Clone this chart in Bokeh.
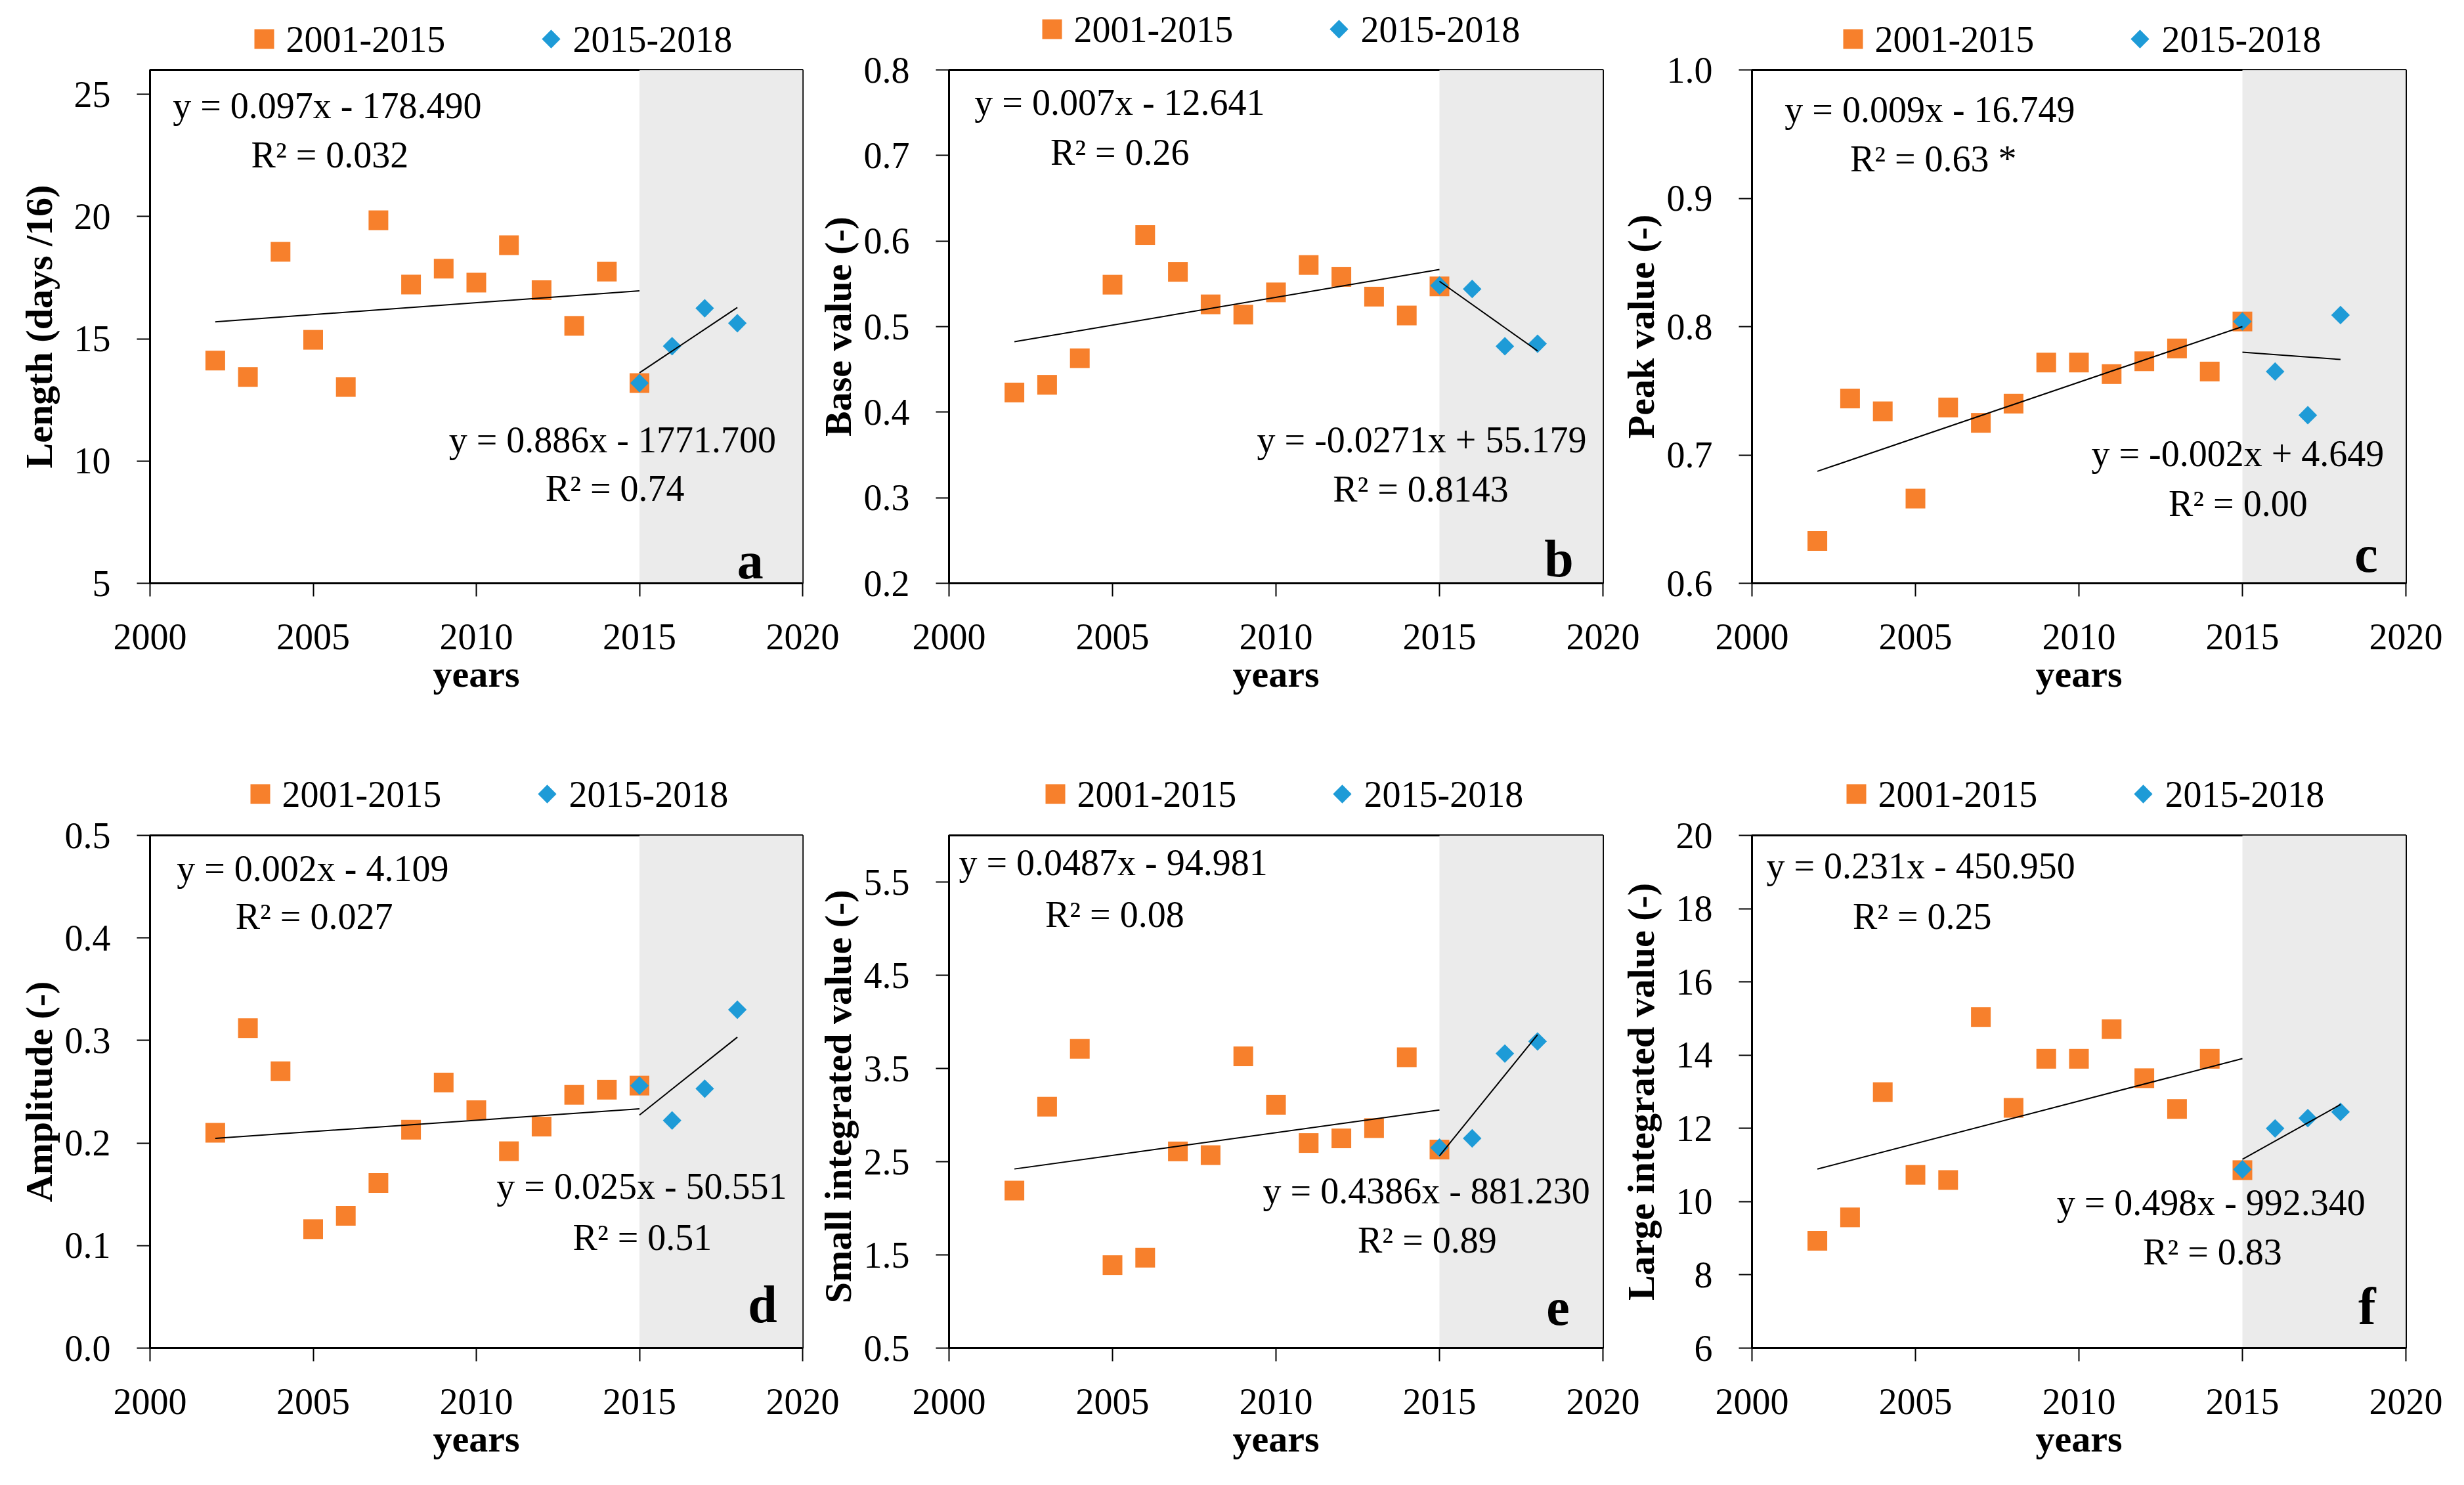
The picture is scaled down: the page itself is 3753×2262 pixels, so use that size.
import numpy as np
from bokeh.plotting import figure
from bokeh.models import (BoxAnnotation, Label, FixedTicker, PrintfTickFormatter, Range1d)
from bokeh.core.properties import value
from bokeh.layouts import column, row
from bokeh.embed import file_html
from bokeh.resources import INLINE

# ---------------- data ----------------
years_early = [2002, 2003, 2004, 2005, 2006, 2007, 2008, 2009, 2010, 2011, 2012, 2013, 2014, 2015]
years_late = [2015, 2016, 2017, 2018]

length_early = [14.11, 13.44, 18.56, 14.96, 13.03, 19.85, 17.22, 17.87, 17.30, 18.83, 16.99, 15.53, 17.75, 13.19]
length_late = [13.19, 14.70, 16.25, 15.64]

base_early = [0.423, 0.432, 0.463, 0.549, 0.607, 0.564, 0.526, 0.514, 0.540, 0.572, 0.558, 0.535, 0.513, 0.547]
base_late = [0.548, 0.544, 0.477, 0.480]

peak_early = [0.633, 0.744, 0.734, 0.666, 0.737, 0.725, 0.740, 0.772, 0.772, 0.763, 0.773, 0.783, 0.765, 0.804]
peak_late = [0.804, 0.765, 0.731, 0.809]

ampl_early = [0.210, 0.312, 0.270, 0.116, 0.129, 0.161, 0.213, 0.259, 0.232, 0.192, 0.216, 0.247, 0.252, 0.256]
ampl_late = [0.256, 0.222, 0.253, 0.330]

small_early = [2.19, 3.09, 3.71, 1.39, 1.47, 2.61, 2.57, 3.63, 3.11, 2.70, 2.75, 2.86, 3.62, 2.63]
small_late = [2.65, 2.75, 3.66, 3.79]

large_early = [8.93, 9.57, 12.99, 10.73, 10.59, 15.04, 12.56, 13.90, 13.90, 14.71, 13.37, 12.53, 13.90, 10.86]
large_late = [10.88, 12.00, 12.28, 12.45]

x_ticks = [2000, 2005, 2010, 2015, 2020]
series_labels = ["2001-2015", "2015-2018"]

panels = [
    dict(ylabel="Length (days /16)", yr=(5, 26), yt=[5, 10, 15, 20, 25], fmt="%d",
         early=length_early, late=length_late, letter="a",
         eqs=["y = 0.097x - 178.490", "R\u00b2 = 0.032", "y = 0.886x - 1771.700", "R\u00b2 = 0.74"]),
    dict(ylabel="Base value (-)", yr=(0.2, 0.8), yt=[0.2, 0.3, 0.4, 0.5, 0.6, 0.7, 0.8], fmt="%.1f",
         early=base_early, late=base_late, letter="b",
         eqs=["y = 0.007x - 12.641", "R\u00b2 = 0.26", "y = -0.0271x + 55.179", "R\u00b2 = 0.8143"]),
    dict(ylabel="Peak value (-)", yr=(0.6, 1.0), yt=[0.6, 0.7, 0.8, 0.9, 1.0], fmt="%.1f",
         early=peak_early, late=peak_late, letter="c",
         eqs=["y = 0.009x - 16.749", "R\u00b2 = 0.63 *", "y = -0.002x + 4.649", "R\u00b2 = 0.00"]),
    dict(ylabel="Amplitude (-)", yr=(0.0, 0.5), yt=[0.0, 0.1, 0.2, 0.3, 0.4, 0.5], fmt="%.1f",
         early=ampl_early, late=ampl_late, letter="d",
         eqs=["y = 0.002x - 4.109", "R\u00b2 = 0.027", "y = 0.025x - 50.551", "R\u00b2 = 0.51"]),
    dict(ylabel="Small  integrated value (-)", yr=(0.5, 6.0), yt=[0.5, 1.5, 2.5, 3.5, 4.5, 5.5], fmt="%.1f",
         early=small_early, late=small_late, letter="e",
         eqs=["y = 0.0487x - 94.981", "R\u00b2 = 0.08", "y = 0.4386x - 881.230", "R\u00b2 = 0.89"]),
    dict(ylabel="Large integrated value (-)", yr=(6, 20), yt=[6, 8, 10, 12, 14, 16, 18, 20], fmt="%d",
         early=large_early, late=large_late, letter="f",
         eqs=["y = 0.231x - 450.950", "R\u00b2 = 0.25", "y = 0.498x - 992.340", "R\u00b2 = 0.83"]),
]

# ---------------- layout / style ----------------
ORANGE = "#F7802C"
BLUE = "#1E9BD7"
SHADE = "#EBEBEB"
FONT = "Liberation Serif"

PAGE_X0 = 8
FW = [994, 996, 996]
LB = [220, 210, 210]
RB = [70, 70, 70]
MARGIN_L = [0, -57, -53]
FRAME_LEFT = [228, 1445, 2668]     # page x of each column's frame
FH = [782, 781]
TOPB = 45
BB = [180, 180]
ROW_MARGIN_T = [-47, -23]

LEG_TOP = [8, 1150]
LEG_H = [100, 100]
LEG_MARGIN_T = [0, 82]
LEG_W = 3737

# legend layout per panel: (square centre offset from frame left, centre page y)
legend_pos = [(174, 59), (157, 44), (154, 59), (168, 1209), (162, 1209), (159, 1209)]
LEG_TEXT_DX = 33
LEG_ITEM_DX = 437

# text positions as fractions of frame (left x, middle y)
text_pos = [
    [(0.035, 0.930), (0.155, 0.834), (0.458, 0.279), (0.606, 0.185)],
    [(0.039, 0.937), (0.155, 0.840), (0.471, 0.279), (0.587, 0.183)],
    [(0.050, 0.922), (0.150, 0.827), (0.519, 0.253), (0.637, 0.155)],
    [(0.041, 0.935), (0.131, 0.842), (0.531, 0.316), (0.648, 0.216)],
    [(0.015, 0.947), (0.147, 0.846), (0.480, 0.307), (0.625, 0.211)],
    [(0.022, 0.940), (0.154, 0.842), (0.466, 0.284), (0.598, 0.187)],
]
letter_pos = [(0.940, 0.044), (0.955, 0.048), (0.957, 0.057), (0.961, 0.085), (0.949, 0.079), (0.954, 0.081)]
ylabel_standoff = [18, 4, 4, 4, 4, 18]


def make_panel(i, spec):
    c = i % 3
    r = i // 3
    x0, x1 = 2000, 2020
    y0, y1 = spec["yr"]
    p = figure(frame_width=FW[c], frame_height=FH[r],
               x_range=Range1d(x0, x1), y_range=Range1d(y0, y1),
               min_border_left=LB[c], min_border_right=RB[c],
               min_border_top=TOPB, min_border_bottom=BB[r],
               output_backend="svg", toolbar_location=None,
               margin=(ROW_MARGIN_T[r], 0, 0, MARGIN_L[c]))
    p.border_fill_color = None
    p.background_fill_color = "white"
    p.outline_line_color = "black"
    p.outline_line_width = 3
    p.grid.visible = False

    p.add_layout(BoxAnnotation(left=2015, right=2020, fill_color=SHADE, fill_alpha=1.0,
                               line_color=None, level="underlay"))

    p.xaxis.ticker = FixedTicker(ticks=x_ticks)
    p.yaxis.ticker = FixedTicker(ticks=spec["yt"])
    p.xaxis.formatter = PrintfTickFormatter(format="%d")
    p.yaxis.formatter = PrintfTickFormatter(format=spec["fmt"])
    for ax in (p.xaxis[0], p.yaxis[0]):
        ax.axis_line_color = "black"
        ax.axis_line_width = 3
        ax.major_tick_in = 0
        ax.major_tick_out = 20
        ax.major_tick_line_width = 2
        ax.minor_tick_in = 0
        ax.minor_tick_out = 0
        ax.major_label_text_font = FONT
        ax.major_label_text_font_size = "56px"
        ax.major_label_text_color = "black"
        ax.axis_label_text_font = FONT
        ax.axis_label_text_font_size = "58px"
        ax.axis_label_text_font_style = "bold"
        ax.axis_label_text_color = "black"
    p.xaxis.major_label_standoff = 42
    p.yaxis.major_label_standoff = 40
    p.xaxis.axis_label = "years"
    p.xaxis.axis_label_standoff = 2
    p.yaxis.axis_label = spec["ylabel"]
    p.yaxis.axis_label_standoff = ylabel_standoff[i]

    p.scatter(years_early, spec["early"], marker="square", size=30,
              fill_color=ORANGE, line_color=None)
    p.scatter(years_late, spec["late"], marker="square", angle=np.pi / 4, size=20,
              fill_color=BLUE, line_color=None)

    # trend lines (least squares on the data)
    for xs, ys in ((years_early, spec["early"]), (years_late, spec["late"])):
        k, b = np.polyfit(xs, ys, 1)
        ends = [xs[0], xs[-1]]
        p.line(ends, [k * e + b for e in ends], line_color="black", line_width=2)

    for txt, (fx, fy) in zip(spec["eqs"], text_pos[i]):
        p.add_layout(Label(x=x0 + fx * (x1 - x0), y=y0 + fy * (y1 - y0), text=txt,
                           text_font=FONT, text_font_size="56px", text_color="black",
                           text_align="left", text_baseline="middle"))
    fx, fy = letter_pos[i]
    p.add_layout(Label(x=x0 + fx * (x1 - x0), y=y0 + fy * (y1 - y0), text=spec["letter"],
                       text_font=FONT, text_font_size="80px", text_font_style="bold",
                       text_color="black", text_align="right", text_baseline="alphabetic"))
    return p


def make_legend_row(r):
    top, h = LEG_TOP[r], LEG_H[r]
    p = figure(width=LEG_W, height=h,
               x_range=Range1d(PAGE_X0, PAGE_X0 + LEG_W), y_range=Range1d(top + h, top),
               x_axis_type=None, y_axis_type=None, min_border=0,
               output_backend="svg", toolbar_location=None,
               margin=(LEG_MARGIN_T[r], 0, 0, 0))
    p.grid.visible = False
    p.outline_line_color = None
    p.background_fill_color = None
    p.border_fill_color = None
    sq_x, sq_y, dm_x, t_x, t_txt = [], [], [], [], []
    for c in range(3):
        dx, cy = legend_pos[r * 3 + c]
        sx = FRAME_LEFT[c] + dx
        sq_x.append(sx)
        sq_y.append(cy)
        dm_x.append(sx + LEG_ITEM_DX)
        t_x += [sx + LEG_TEXT_DX, sx + LEG_ITEM_DX + LEG_TEXT_DX]
        t_txt += series_labels
    p.scatter(sq_x, sq_y, marker="square", size=30, fill_color=ORANGE, line_color=None)
    p.scatter(dm_x, sq_y, marker="square", angle=np.pi / 4, size=20, fill_color=BLUE, line_color=None)
    p.text(t_x, [y for y in sq_y for _ in range(2)], text=t_txt,
           text_font=value(FONT), text_font_size=value("56px"), text_color="black",
           text_align="left", text_baseline="middle")
    return p


figs = [make_panel(i, s) for i, s in enumerate(panels)]
layout = column(make_legend_row(0), row(*figs[:3]), make_legend_row(1), row(*figs[3:]),
                margin=(PAGE_X0, 0, 0, PAGE_X0))

open("out.html", "w").write(file_html(layout, INLINE))
